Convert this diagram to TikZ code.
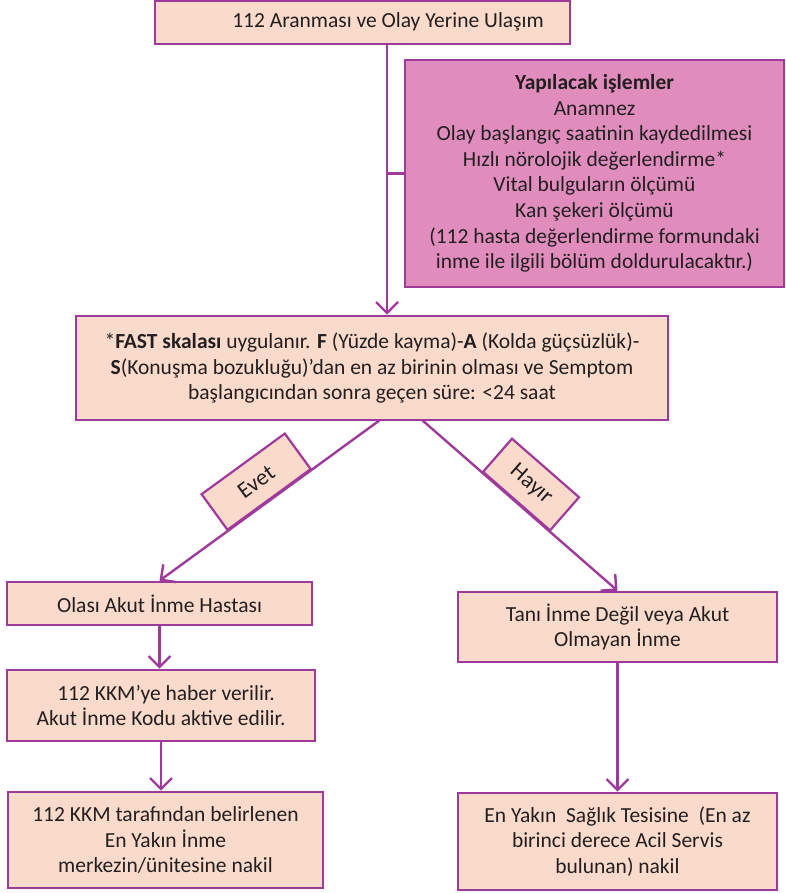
\documentclass[tikz,border=0pt]{standalone}
\usepackage{fontspec}
\setmainfont{Carlito}
\usetikzlibrary{arrows.meta}
\definecolor{edgepurple}{HTML}{9E3A9B}
\definecolor{peach}{HTML}{FADACA}
\definecolor{rosebox}{HTML}{E08DBE}
\definecolor{ink}{HTML}{231F20}
\begin{document}
\begin{tikzpicture}[x=1pt,y=-1pt,
  font=\fontsize{21.5}{25.6}\selectfont,
  box/.style={draw=edgepurple, line width=2.6pt, fill=peach, text=ink,
    align=center, inner sep=0pt},
  conn/.style={draw=edgepurple, line width=2.4pt},
  arr/.style={conn, -{Straight Barb[length=11pt, width=22pt]}},
  tag/.style={box, line width=2.2pt, minimum height=44pt,
    font=\fontsize{23}{26}\selectfont}]
\useasboundingbox (0,0) rectangle (786,893);

% boxes
\node[box, minimum width=415pt, minimum height=43.5pt] (call) at (362.5,22.25)
  {\hspace*{51pt}112 Aranması ve Olay Yerine Ulaşım};
\node[box, fill=rosebox, minimum width=379pt, minimum height=227pt] (todo) at (594.5,173.5)
  {\textbf{Yapılacak işlemler}\\ Anamnez\\ Olay başlangıç saatinin kaydedilmesi\\
   Hızlı nörolojik değerlendirme*\\ Vital bulguların ölçümü\\ Kan şekeri ölçümü\\
   (112 hasta değerlendirme formundaki\\ inme ile ilgili bölüm doldurulacaktır.)};
\node[box, minimum width=592pt, minimum height=104pt] (fast) at (372,368)
  {*\textbf{FAST skalası} uygulanır. \textbf{F} (Yüzde kayma)-\textbf{A} (Kolda güçsüzlük)-\\
   \textbf{S}(Konuşma bozukluğu)’dan en az birinin olması ve Semptom\\
   başlangıcından sonra geçen süre: <24 saat};
\node[box, minimum width=305pt, minimum height=43pt] (likely) at (159.5,603.5)
  {Olası Akut İnme Hastası};
\node[box, minimum width=308pt, minimum height=71pt] (notify) at (161,705.5)
  {\hspace*{10pt}112 KKM’ye haber verilir.\\ Akut İnme Kodu aktive edilir.};
\node[box, minimum width=315pt, minimum height=96pt] (stroke) at (165.5,840)
  {112 KKM tarafından belirlenen\\ En Yakın İnme\\ merkezin/ünitesine nakil};
\node[box, minimum width=319pt, minimum height=70pt] (notacute) at (617.5,627)
  {Tanı İnme Değil veya Akut\\ Olmayan İnme};
\node[box, minimum width=319pt, minimum height=97pt] (nearest) at (617.5,841.5)
  {En Yakın\ \ Sağlık Tesisine\ \ (En az\\ birinci derece Acil Servis\\ bulunan) nakil};

% connectors
\coordinate (trunk) at (387,0);
\coordinate (yesfrom) at (380,420);
\coordinate (nofrom) at (422,420);
\draw[arr] (call.south -| trunk) -- (fast.north -| trunk);
\draw[conn] (todo.west -| trunk) -- (todo.west);
\draw[arr] (yesfrom) -- (likely.north)
  node[tag, pos=0.5, sloped, above, minimum width=103pt] {Evet};
\draw[arr] (nofrom) -- (notacute.north)
  node[tag, pos=0.48, sloped, above, minimum width=89pt] {Hayır};
\draw[arr] (likely.south) -- (likely.south |- notify.north);
\draw[arr] (notify.south) -- (notify.south |- stroke.north);
\draw[arr] (notacute.south) -- (notacute.south |- nearest.north);
\end{tikzpicture}
\end{document}
